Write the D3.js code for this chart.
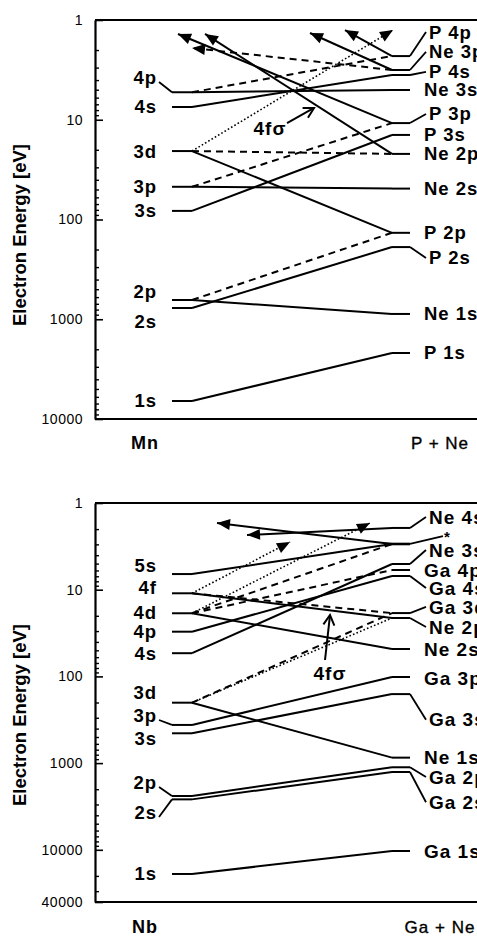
<!DOCTYPE html>
<html>
<head>
<meta charset="utf-8">
<title>Correlation diagrams</title>
<script src="https://cdn.jsdelivr.net/npm/d3@7/dist/d3.min.js"></script>
<style>
	body { margin: 0; background: #fff; }
	svg text { font-family: "Liberation Sans", Arial, Helvetica, sans-serif; fill: #000; }
</style>
</head>
<body>
<svg id="svg1" width="477" height="938"></svg>
<script>

// ---- top panel : Mn (united atom)  ->  P + Ne ----
var mn_names  = ["1s", "2s", "2p", "3s", "3p", "3d", "4s", "4p"];
var mn_energy = [6600, 771, 641, 82, 47, 20.6, 7.45, 5.3];
var mn_label  = [6600, 1066, 533, 82, 47, 20.6, 7.45, 3.81];
var mn_leader = [false, false, false, false, false, false, false, true];

var pne_names  = ["P 1s", "Ne 1s", "P 2s", "P 2p", "Ne 2s", "Ne 2p", "P 3s", "P 3p", "Ne 3s", "P 4s", "Ne 3p", "P 4p"];
var pne_energy = [2180, 885, 189, 136, 49, 22, 14.2, 10.8, 5.03, 3.56, 3.17, 2.3];
var pne_label  = [2180, 885, 243, 136, 49, 22, 14.2, 8.76, 5.03, 3.32, 2.09, 1.32];

var mn_links = [
	["1s", "P 1s", "solid"],
	["2s", "P 2s", "solid"],
	["2p", "Ne 1s", "solid"],
	["2p", "P 2p", "dashed"],
	["3s", "P 3s", "solid"],
	["3p", "Ne 2s", "solid"],
	["3p", "P 3p", "dashed"],
	["3d", "P 2p", "solid"],
	["3d", "Ne 2p", "dashed"],
	["4s", "P 4s", "solid"],
	["4p", "Ne 3s", "solid"],
	["4p", "P 4p", "dashed"]
];
// levels running off into the continuum: [level, position (0 = left, 1 = right), energy at tip, style]
var mn_arrows = [
	["P 3p", -0.07, 1.38, "solid"],
	["Ne 2p", 0.065, 1.38, "solid"],
	["Ne 3p", 0, 1.91, "dashed"],
	["Ne 3p", 0.59, 1.35, "solid"],
	["P 4p", 0.765, 1.26, "solid"],
	["3d", 1.005, 1.26, "dotted"]
];
var mn_ticks = [1, 10, 100, 1000, 10000];
// 4f sigma note : text [pos, E], arrow from [pos, E] to [pos, E]
var mn_note = [0.39, 12.1, 0.475, 10.8, 0.61, 7.62];

// ---- bottom panel : Nb  ->  Ga + Ne ----
var nb_names  = ["1s", "2s", "2p", "3s", "3p", "3d", "4s", "4p", "4d", "4f", "5s"];
var nb_energy = [19000, 2620, 2395, 453, 363, 201, 54, 30.5, 18.7, 11.0, 6.6];
var nb_label  = [19000, 3765, 1695, 514, 286, 155, 54, 30.5, 18.1, 9.55, 5.33];
var nb_leader = [false, true, true, false, true, false, false, false, false, false, false];

var gane_names  = ["Ga 1s", "Ga 2s", "Ga 2p", "Ne 1s", "Ga 3s", "Ga 3p", "Ne 2s", "Ne 2p", "Ga 3d", "Ga 4s", "Ga 4p", "Ne 3s", "*", "Ne 4s"];
var gane_energy = [10330, 1267, 1117, 865, 160, 101.6, 48.3, 21.2, 18.6, 6.95, 5.93, 5.05, 2.97, 1.94];
var gane_label  = [10330, 2825, 1450, 865, 317, 104, 48.3, 26.9, 15.8, 9.55, 5.93, 3.48, 2.22, 1.45];

var nb_links = [
	["1s", "Ga 1s", "solid"],
	["2s", "Ga 2s", "solid"],
	["2p", "Ga 2p", "solid"],
	["3s", "Ga 3s", "solid"],
	["3p", "Ga 3p", "solid"],
	["3d", "Ne 1s", "solid"],
	["3d", "Ga 3d", "dashed"],
	["3d", "Ne 2p", "dotted"],
	["4s", "Ne 3s", "solid"],
	["4p", "Ga 4s", "solid"],
	["4d", "Ne 2s", "solid"],
	["4d", "*", "dashed"],
	["4d", "Ga 4p", "dashed"],
	["4f", "Ne 2p", "solid"],
	["4f", "Ga 3d", "dashed"],
	["5s", "*", "solid"]
];
var nb_arrows = [
	["*", 0.125, 1.70, "solid"],
	["Ne 4s", 0.275, 2.34, "solid"],
	["4f", 0.49, 2.82, "dotted"],
	["4d", 0.89, 1.70, "dotted"]
];
var nb_ticks = [1, 10, 100, 1000, 10000, 40000];
var nb_note = [0.69, 91.4, 0.665, 64.7, 0.69, 19.6];


var svg = d3.select("#svg1");

var defs = svg.append("defs");
defs.append("marker")
	.attr("id", "head")
	.attr("viewBox", "-14 -7 15 14")
	.attr("markerWidth", 15)
	.attr("markerHeight", 14)
	.attr("markerUnits", "userSpaceOnUse")
	.attr("orient", "auto")
	.attr("refX", 0).attr("refY", 0)
	.append("path")
	.attr("d", "M0,0L-13,-5.5L-13,5.5Z")
	.attr("fill", "#000");
defs.append("marker")
	.attr("id", "open")
	.attr("viewBox", "-12 -7 14 14")
	.attr("markerWidth", 14)
	.attr("markerHeight", 14)
	.attr("markerUnits", "userSpaceOnUse")
	.attr("orient", "auto")
	.attr("refX", 0).attr("refY", 0)
	.append("path")
	.attr("d", "M-10,-5.5L0,0L-10,5.5")
	.attr("fill", "none")
	.attr("stroke", "#000")
	.attr("stroke-width", 2);

var line_style = function(sel, kind)
{
	sel.attr("stroke", "#000").attr("fill", "none");
	if (kind == "solid") sel.attr("stroke-width", 2);
	if (kind == "dashed") sel.attr("stroke-width", 2).attr("stroke-dasharray", "7,5");
	if (kind == "dotted") sel.attr("stroke-width", 1.6).attr("stroke-dasharray", "1.6,2.2");
	return sel;
}

var draw_panel = function(p)
{
	var y = d3.scaleLog().domain(p.domain).range([p.top, p.bottom]);
	var x = d3.scaleLinear().domain([0, 1]).range([192, 392]);
	var g = svg.append("g");

	// energy lookup
	var lE = {}, rE = {};
	p.leftNames.forEach(function(n, i) { lE[n] = p.leftE[i]; });
	p.rightNames.forEach(function(n, i) { rE[n] = p.rightE[i]; });

	// frame (open to the right, the original is cut there)
	g.append("line").attr("x1", 95).attr("x2", 520).attr("y1", p.top).attr("y2", p.top)
		.attr("stroke", "#000").attr("stroke-width", 2.2);
	g.append("line").attr("x1", 95).attr("x2", 520).attr("y1", p.bottom).attr("y2", p.bottom)
		.attr("stroke", "#000").attr("stroke-width", 2.2);

	var major = d3.axisLeft(y)
		.tickValues(p.ticks)
		.tickFormat(d3.format("d"))
		.tickSizeInner(-8)
		.tickSizeOuter(0)
		.tickPadding(12);
	var minor = d3.axisLeft(y)
		.tickValues(y.ticks().filter(function(t) { return p.ticks.indexOf(t) < 0; }))
		.tickFormat("")
		.tickSizeInner(-4)
		.tickSizeOuter(0);

	var ax = g.append("g").attr("transform", "translate(95,0)").call(major);
	ax.select(".domain").attr("stroke-width", 2.2);
	ax.selectAll(".tick line").attr("stroke-width", 1.6);
	ax.selectAll(".tick text")
		.style("font-size", "14px")
		.style("letter-spacing", "0.5px");
	var mx = g.append("g").attr("transform", "translate(95,0)").call(minor);
	mx.select(".domain").remove();
	mx.selectAll(".tick line").attr("stroke-width", 1.4);

	// axis title
	g.append("text")
		.attr("transform", "translate(26," + p.titleY + ") rotate(-90)")
		.attr("text-anchor", "middle")
		.style("font-size", "18.5px")
		.style("font-weight", "bold")
		.text("Electron Energy [eV]");

	// system names under the frame
	g.append("text")
		.attr("x", 145).attr("y", p.catY).attr("dy", "0.35em")
		.attr("text-anchor", "middle")
		.style("font-size", "18px").style("font-weight", "bold").style("letter-spacing", "1px")
		.text(p.leftTitle);
	g.append("text")
		.attr("x", 440).attr("y", p.catY).attr("dy", "0.35em")
		.attr("text-anchor", "middle")
		.style("font-size", "17px").style("letter-spacing", "1px")
		.style("stroke", "#000").style("stroke-width", "0.35px")
		.text(p.rightTitle);

	// correlation lines
	g.selectAll(".link")
		.data(p.links)
		.enter().append("line")
		.attr("class", "link")
		.attr("x1", x(0)).attr("y1", function(d) { return y(lE[d[0]]); })
		.attr("x2", x(1)).attr("y2", function(d) { return y(rE[d[1]]); })
		.each(function(d) { line_style(d3.select(this), d[2]); });

	// promoted levels (arrows)
	g.selectAll(".arrow")
		.data(p.arrows)
		.enter().append("line")
		.attr("class", "arrow")
		.attr("x1", function(d) { return lE[d[0]] !== undefined ? x(0) : x(1); })
		.attr("y1", function(d) { return y(lE[d[0]] !== undefined ? lE[d[0]] : rE[d[0]]); })
		.attr("x2", function(d) { return x(d[1]); })
		.attr("y2", function(d) { return y(d[2]); })
		.attr("marker-end", "url(#head)")
		.each(function(d) { line_style(d3.select(this), d[3]); });

	// left level stubs and labels
	p.leftNames.forEach(function(n, i)
	{
		var yl = y(p.leftE[i]);
		var yt = y(p.leftLabel[i]);
		g.append("line").attr("x1", x(-0.1)).attr("x2", x(0)).attr("y1", yl).attr("y2", yl)
			.attr("stroke", "#000").attr("stroke-width", 2);
		if (p.leftLeader[i])
		{
			g.append("line").attr("x1", x(-0.165)).attr("y1", yt + 4).attr("x2", x(-0.1)).attr("y2", yl)
				.attr("stroke", "#000").attr("stroke-width", 1.8);
		}
		g.append("text")
			.attr("x", x(-0.175)).attr("y", yt).attr("dy", "0.35em")
			.attr("text-anchor", "end")
			.style("font-size", "18.5px").style("font-weight", "bold").style("letter-spacing", "1px")
			.text(n);
	});

	// right level stubs and labels
	p.rightNames.forEach(function(n, i)
	{
		var yl = y(p.rightE[i]);
		var yt = y(p.rightLabel[i]);
		var off = Math.abs(yt - yl) > 2;
		var star = (n == "*");
		g.append("line").attr("x1", star ? x(0.96) : x(1)).attr("x2", x(1.09)).attr("y1", yl).attr("y2", yl)
			.attr("stroke", "#000").attr("stroke-width", star ? 2.6 : 2);
		if (off)
		{
			g.append("line").attr("x1", x(1.09)).attr("y1", yl)
				.attr("x2", star ? x(1.255) : x(1.17)).attr("y2", star ? yt + 3 : yt)
				.attr("stroke", "#000").attr("stroke-width", 1.8);
		}
		g.append("text")
			.attr("x", star ? x(1.26) : (off ? x(1.185) : x(1.16))).attr("y", yt)
			.attr("dy", star ? "0.6em" : "0.35em")
			.style("font-size", star ? "15px" : p.labelSize).style("font-weight", "bold").style("letter-spacing", "1px")
			.text(n);
	});

	// 4f sigma note
	g.append("text")
		.attr("x", x(p.note[0])).attr("y", y(p.note[1])).attr("dy", "0.35em")
		.attr("text-anchor", "middle")
		.style("font-size", "19px").style("font-weight", "bold").style("letter-spacing", "1px")
		.text("4f\u03c3");
	g.append("line")
		.attr("x1", x(p.note[2])).attr("y1", y(p.note[3]))
		.attr("x2", x(p.note[4])).attr("y2", y(p.note[5]))
		.attr("stroke", "#000").attr("stroke-width", 2)
		.attr("marker-end", "url(#open)");
}

draw_panel({
	top: 20, bottom: 419, domain: [1, 10000], ticks: mn_ticks,
	titleY: 235, catY: 443, leftTitle: "Mn", rightTitle: "P + Ne",
	leftNames: mn_names, leftE: mn_energy, leftLabel: mn_label, leftLeader: mn_leader,
	rightNames: pne_names, rightE: pne_energy, rightLabel: pne_label,
	links: mn_links, arrows: mn_arrows, note: mn_note, labelSize: "18.5px"
});

draw_panel({
	top: 503, bottom: 902, domain: [1, 40000], ticks: nb_ticks,
	titleY: 715, catY: 927, leftTitle: "Nb", rightTitle: "Ga + Ne",
	leftNames: nb_names, leftE: nb_energy, leftLabel: nb_label, leftLeader: nb_leader,
	rightNames: gane_names, rightE: gane_energy, rightLabel: gane_label,
	links: nb_links, arrows: nb_arrows, note: nb_note, labelSize: "19px"
});

</script>
</body>
</html>
